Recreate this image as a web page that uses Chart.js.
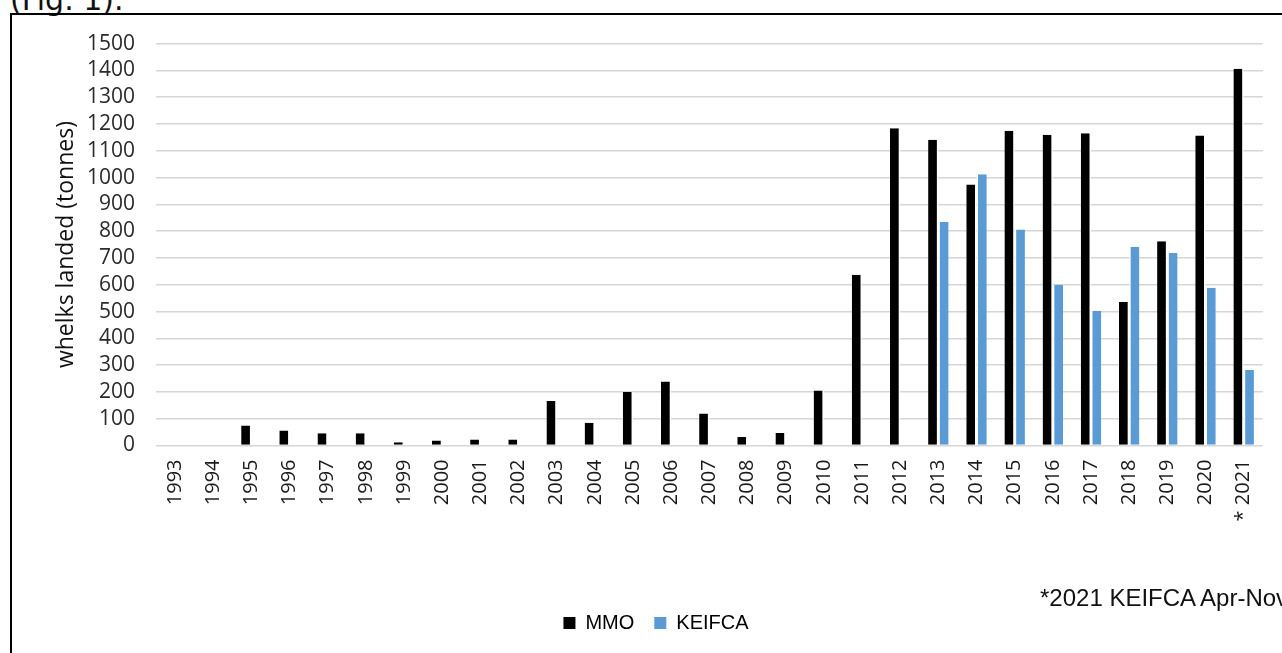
<!DOCTYPE html>
<html>
<head>
<meta charset="utf-8">
<title>Whelks landed</title>
<script src="https://cdn.jsdelivr.net/npm/chart.js@4.4.1/dist/chart.umd.min.js"></script>
<style>
  html, body { margin: 0; padding: 0; background: #fff; overflow: hidden; width: 1282px; height: 653px; }
  #caption { position: absolute; left: 10px; top: -15px; font: 30px/30px "DejaVu Sans", sans-serif; color: #111; white-space: nowrap; }
  #frame { position: absolute; left: 10px; top: 13px; width: 1300px; height: 700px; border-top: 2px solid #000; border-left: 2px solid #000; }
  #whelkChart { position: absolute; left: 0; top: -5px; }
  #note { position: absolute; left: 1040px; top: 584px; font: 24px "Liberation Sans", sans-serif; color: #111; white-space: nowrap; }
</style>
</head>
<body>
<div id="caption">(Fig. 1).</div>
<div id="frame">
  <canvas id="whelkChart" width="1270" height="643"></canvas>
</div>
<div id="note">*2021 KEIFCA Apr-Nov</div>
<script>
// landings per year, tonnes
const years = ['1993', '1994', '1995', '1996', '1997', '1998', '1999', '2000', '2001', '2002',
    '2003', '2004', '2005', '2006', '2007', '2008', '2009', '2010', '2011', '2012',
    '2013', '2014', '2015', '2016', '2017', '2018', '2019', '2020', '* 2021'];

const mmoLandings = [null, null, 75, 56, 46, 46, 12, 19, 22, 22,
    166, 85, 200, 239, 119, 32, 47, 205, 637, 1184,
    1141, 974, 1175, 1160, 1165, 536, 762, 1157, 1406];

const keifcaLandings = [null, null, null, null, null, null, null, null, null, null,
    null, null, null, null, null, null, null, null, null, null,
    834, 1012, 806, 600, 503, 742, 718, 589, 282];

const seriesNames = ['MMO', 'KEIFCA'];
const yMax = 1500;
const yStep = 100;

const tickFont = { family: 'Open Sans', size: 21 };

function buildChart() {
    const ctx = document.getElementById('whelkChart').getContext('2d');
    new Chart(ctx, {
        type: 'bar',
        data: {
            labels: years,
            datasets: [
                {
                    label: seriesNames[0],
                    data: mmoLandings,
                    backgroundColor: '#000000',
                    borderColor: '#ffffff',
                    borderWidth: { top: 0, left: 0, bottom: 0, right: 1.5 },
                    borderSkipped: false,
                    categoryPercentage: 0.537,
                    barPercentage: 1
                },
                {
                    label: seriesNames[1],
                    data: keifcaLandings,
                    backgroundColor: '#5b9bd5',
                    borderColor: '#ffffff',
                    borderWidth: { top: 0, left: 1.5, bottom: 0, right: 0 },
                    borderSkipped: false,
                    categoryPercentage: 0.537,
                    barPercentage: 1
                }
            ]
        },
        options: {
            responsive: false,
            devicePixelRatio: 1,
            animation: false,
            layout: {
                padding: { left: 37, right: 19, top: 23, bottom: 10 }
            },
            plugins: {
                legend: {
                    position: 'bottom',
                    labels: {
                        boxWidth: 12,
                        boxHeight: 12,
                        padding: 20,
                        color: '#111',
                        font: { family: 'Liberation Sans', size: 20 },
                        // plain squares without the white bar borders
                        generateLabels: (chart) => chart.data.datasets.map((ds, i) => ({
                            text: ds.label,
                            fillStyle: ds.backgroundColor,
                            strokeStyle: ds.backgroundColor,
                            lineWidth: 0,
                            datasetIndex: i,
                            hidden: false
                        }))
                    }
                },
                tooltip: { enabled: false }
            },
            scales: {
                x: {
                    grid: { display: false, drawTicks: false },
                    border: { display: false },
                    ticks: {
                        minRotation: 90,
                        maxRotation: 90,
                        autoSkip: false,
                        padding: 14,
                        color: '#1a1a1a',
                        font: { family: 'Open Sans', size: 20 }
                    },
                    afterFit: (scale) => { scale.height = 147.5; }
                },
                y: {
                    min: 0,
                    max: yMax,
                    grid: { color: '#d6d6d6', lineWidth: 1.5, drawTicks: false },
                    border: { display: false },
                    ticks: {
                        stepSize: yStep,
                        autoSkip: false,
                        padding: 21,
                        color: '#2a2a2a',
                        font: tickFont,
                        callback: (value) => String(value)
                    },
                    title: {
                        display: true,
                        text: 'whelks landed (tonnes)',
                        color: '#111',
                        font: { family: 'Open Sans', size: 23 }
                    },
                    afterFit: (scale) => { scale.width = 107; }
                }
            }
        }
    });
}

buildChart();
</script>
</body>
</html>
